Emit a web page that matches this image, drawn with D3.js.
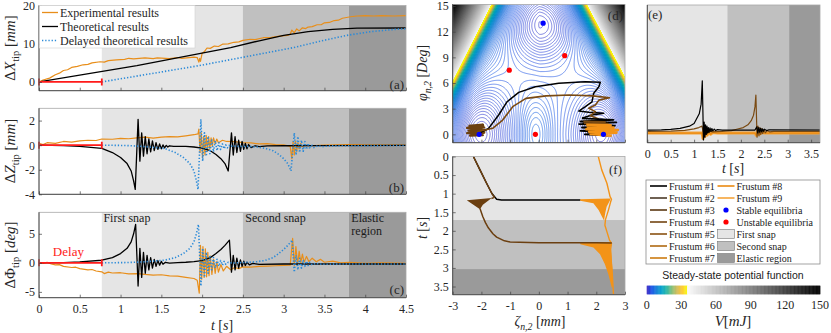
<!DOCTYPE html>
<html><head><meta charset="utf-8">
<script src="https://cdn.jsdelivr.net/npm/d3@7"></script>
<style>
body{margin:0;background:#fff}
svg{display:block}
text{font-family:"Liberation Serif","Times New Roman",serif}
</style></head><body>
<svg id="fig" width="831" height="333"></svg>
<script>
// ---------- data ----------
const delay = 0.77;
const timeShades = [[0.77, 2.5], [2.5, 3.8], [3.8, 4.5]];
const frustumShades = [[0, 1.71], [1.71, 3.03], [3.03, 3.72]];
const shadeColors = ['#e5e5e5', '#c0c0c0', '#9a9a9a'];

const xTheory = [[0,0],[1.2,4.3],[2.35,9.0],[2.7,10.8],[3.0,12.2],[3.3,13.2],[3.6,13.8],[3.9,14.1],[4.5,14.15]];
const xExp = [[0,0],[0.05,0.5],[0.13,1.0],[0.2,1.9],[0.25,2.3],[0.3,3.0],[0.35,3.2],[0.4,3.8],[0.47,4.1],[0.54,4.5],[0.6,4.6],[0.65,5.0],[0.75,5.3],[0.8,5.2],[0.85,5.6],[0.95,5.8],[1.05,5.9],[1.1,6.2],[1.16,6.05],[1.3,6.3],[1.4,6.1],[1.45,6.3],[1.6,6.1],[1.7,6.4],[1.75,6.2],[1.9,6.5],[1.94,6.4],[1.96,5.2],[1.97,6.2],[1.98,5.4],[2.0,7.5],[2.03,8.0],[2.06,8.9],[2.1,8.8],[2.15,9.4],[2.2,9.3],[2.25,9.9],[2.32,10.0],[2.39,10.4],[2.45,10.5],[2.5,10.9],[2.59,11.2],[2.65,11.1],[2.75,11.6],[2.85,11.7],[2.95,12.0],[3.05,12.2],[3.08,12.5],[3.1,13.6],[3.13,12.9],[3.16,13.9],[3.19,13.4],[3.23,14.2],[3.27,14.0],[3.3,14.4],[3.35,14.5],[3.41,15.0],[3.46,15.0],[3.5,15.5],[3.56,15.6],[3.62,16.1],[3.67,16.2],[3.72,16.7],[3.82,17.1],[3.9,17.3],[4.0,17.4],[4.1,17.3],[4.2,17.4],[4.35,17.3],[4.5,17.4]];

const zTheory = [[0,0],[0.3,-0.03],[0.5,-0.1],[0.77,-0.27],[0.9,-0.6],[1.0,-1.0],[1.08,-1.5],[1.13,-2.1],[1.16,-2.9],[1.18,-3.6],[1.215,2.1],[1.237,-1.3],[1.259,1.0],[1.281,-0.9],[1.303,0.7],[1.325,-0.7],[1.347,0.5],[1.369,-0.55],[1.391,0.35],[1.413,-0.45],[1.435,0.2],[1.457,-0.35],[1.479,0.1],[1.5,-0.3],[1.52,0.02],[1.54,-0.22],[1.56,-0.02],[1.58,-0.15],[1.6,-0.05],[1.65,-0.1],[1.8,-0.1],[1.9,-0.15],[2.0,-0.25],[2.1,-0.45],[2.17,-0.76],[2.23,-1.1],[2.28,-1.5],[2.32,-2.1],[2.36,1.0],[2.382,-0.8],[2.404,0.7],[2.426,-0.6],[2.448,0.4],[2.47,-0.5],[2.49,0.3],[2.51,-0.35],[2.53,0.15],[2.55,-0.3],[2.57,0.05],[2.6,-0.2],[2.65,-0.05],[2.7,-0.12],[2.8,-0.06],[3.0,-0.05],[3.5,-0.03],[4.5,-0.02]];
const zExp = [[0,0.15],[0.05,0.05],[0.1,0.2],[0.2,0.15],[0.3,0.3],[0.4,0.25],[0.5,0.35],[0.6,0.4],[0.7,0.38],[0.77,0.5],[0.9,0.48],[1.0,0.55],[1.1,0.52],[1.2,0.6],[1.3,0.65],[1.4,0.58],[1.5,0.66],[1.6,0.7],[1.7,0.68],[1.8,0.76],[1.9,0.85],[1.95,0.92],[1.96,1.3],[1.975,-0.6],[1.99,1.0],[2.005,-1.0],[2.02,0.7],[2.035,-0.8],[2.05,0.8],[2.065,-0.5],[2.08,0.7],[2.095,-0.3],[2.11,0.6],[2.125,-0.1],[2.14,0.6],[2.16,0.1],[2.18,0.5],[2.2,0.2],[2.25,0.4],[2.3,0.3],[2.4,0.28],[2.5,0.2],[2.6,0.18],[2.7,0.1],[2.8,0.12],[2.9,0.05],[3.0,0.02],[3.08,-0.1],[3.1,-1.1],[3.115,0.3],[3.13,-0.8],[3.145,0.3],[3.16,-0.5],[3.175,0.2],[3.19,-0.3],[3.21,0.15],[3.23,-0.15],[3.26,0.05],[3.3,-0.05],[3.5,0.0],[3.8,0.05],[4.0,0.02],[4.5,0.0]];

const phiTheory = [[0,0],[0.3,0.05],[0.5,0.15],[0.77,0.45],[0.9,0.9],[1.0,1.6],[1.08,2.5],[1.13,3.6],[1.16,5.0],[1.185,6.6],[1.215,-4.0],[1.237,2.5],[1.259,-2.5],[1.281,1.8],[1.303,-1.8],[1.325,1.3],[1.347,-1.2],[1.369,0.9],[1.391,-0.9],[1.413,0.6],[1.435,-0.6],[1.457,0.4],[1.479,-0.4],[1.5,0.25],[1.52,-0.25],[1.55,0.1],[1.6,-0.05],[1.7,0.05],[1.8,0.1],[1.9,0.2],[2.0,0.4],[2.1,0.9],[2.17,1.6],[2.23,2.3],[2.28,3.0],[2.335,3.9],[2.36,-1.6],[2.382,1.3],[2.404,-1.2],[2.426,0.8],[2.448,-0.9],[2.47,0.5],[2.49,-0.6],[2.51,0.3],[2.53,-0.45],[2.55,0.1],[2.58,-0.35],[2.62,-0.1],[2.7,-0.25],[3.0,-0.2],[3.5,-0.2],[4.5,-0.2]];
const phiExp = [[0,0],[0.05,-0.1],[0.1,0.1],[0.15,-0.2],[0.2,-0.35],[0.25,-0.3],[0.3,-0.6],[0.4,-0.8],[0.45,-0.75],[0.5,-1.0],[0.6,-1.2],[0.65,-1.15],[0.7,-1.4],[0.77,-1.55],[0.8,-1.85],[0.85,-1.6],[0.9,-1.75],[1.0,-1.7],[1.1,-1.9],[1.2,-1.85],[1.3,-2.0],[1.4,-2.1],[1.5,-2.05],[1.6,-2.25],[1.7,-2.3],[1.8,-2.5],[1.9,-2.7],[1.94,-3.0],[1.965,-5.2],[1.98,3.0],[1.995,-2.8],[2.01,2.8],[2.025,-2.5],[2.04,2.4],[2.055,-2.4],[2.07,1.8],[2.085,-2.2],[2.1,1.2],[2.12,-2.0],[2.14,0.6],[2.16,-1.8],[2.18,0.2],[2.2,-1.6],[2.23,-0.3],[2.26,-1.4],[2.3,-0.6],[2.35,-1.2],[2.4,-0.8],[2.45,-1.0],[2.5,-0.7],[2.6,-0.75],[2.7,-0.6],[2.8,-0.55],[2.9,-0.5],[3.0,-0.45],[3.08,-0.4],[3.11,4.2],[3.13,-0.5],[3.15,2.8],[3.17,-0.3],[3.19,2.0],[3.21,0.0],[3.23,1.5],[3.25,0.1],[3.28,1.1],[3.31,0.2],[3.35,0.8],[3.4,0.2],[3.45,0.6],[3.5,0.1],[3.6,0.3],[3.7,0.0],[3.8,0.1],[4.0,-0.1],[4.2,0.0],[4.5,-0.1]];

// (d) potential landscape and equilibria
const stableEq = [[-2.08,0],[0.15,13],[2.25,0]];
const unstableEq = [[-1.03,7.5],[0.9,9.2],[-0.12,0]];
const wells = [[-2.1,0,3.8,0.72,4.2],[2.25,0,3.8,0.72,4.2],[0.15,13,3.4,0.9,3.0]]; // zeta, phi, depth, sZeta, sPhi
const bumps = [[-0.12,0,1.8,0.4,3.0]];
const baseLevel = 4.4;
const wallLeft = [[-3,6.2],[-1.65,15.2]];   // V = 35 along these lines
const wallRight = [[3,6.7],[1.67,15.2]];
const wallTerms = [[29, 0.15], [6, 0.7]];   // amplitude, decay length (sum = 35 on the wall)
const wallSlope = 85;

const dBlack = [[-2.09,0.12],[-1.75,0.7],[-1.4,2.26],[-1.11,3.8],[-0.7,4.9],[-0.12,5.57],[0.69,5.96],[1.62,6.15],[2.14,6.08],[2.09,5.57],[1.91,4.8],[1.85,3.8],[1.62,3.23],[1.39,2.72],[1.74,2.57],[2.26,2.46],[1.85,2.26],[1.5,1.87]];
const dBrown = [[-2.15,0.3],[-1.61,0.7],[-1.26,1.67],[-0.91,3.23],[-0.45,4.2],[0.25,4.5],[1.06,4.6],[1.88,4.5],[2.46,4.28],[2.09,4.0],[1.97,3.43],[1.74,3.04],[1.97,2.65],[1.79,2.18],[2.09,1.8]];
const dLeftBlob = [[-2.45,1.0],[-1.95,1.15],[-2.5,0.75],[-1.9,0.8],[-2.45,0.45],[-1.85,0.5],[-2.5,0.15],[-1.9,0.2],[-2.4,-0.15],[-1.95,-0.1],[-2.3,0.6],[-1.9,1.0]];
const dBlackBlob = [[1.5,1.87],[2.6,1.7],[1.45,1.5],[2.7,1.4],[1.4,1.2],[2.65,1.0],[1.5,0.8],[2.6,0.6],[1.45,0.4],[2.5,0.2],[1.6,0.0],[2.4,-0.15],[1.7,0.3],[2.55,0.9],[1.55,1.3],[2.3,1.6]];
const dBrownBlob = [[1.55,1.5],[2.3,1.45],[1.6,1.3],[2.4,1.25],[1.7,1.1],[2.2,1.05]];
const dOrangeBlob = [[1.65,1.1],[2.5,1.05],[1.7,0.9],[2.6,0.8],[1.65,0.6],[2.75,0.5],[1.75,0.3],[2.7,0.2],[1.8,0.05],[2.5,-0.15],[1.9,0.4],[2.65,0.35],[1.75,0.75],[2.45,1.0]];

// (e) energy-like signal (no tick labels in the figure)
const eBlack = [[0,9.2],[0.3,9.3],[0.5,9.7],[0.7,10.4],[0.9,12],[1.0,14],[1.11,21],[1.15,28],[1.175,45],[1.2,2],[1.215,15],[1.23,4],[1.245,13],[1.26,6],[1.275,12],[1.29,7],[1.305,11],[1.32,7.5],[1.34,10.8],[1.36,8],[1.38,10.3],[1.4,8.5],[1.43,9.9],[1.46,8.8],[1.5,9.5],[1.6,9.2],[2.3,9.2],[2.34,11.5],[2.36,7.2],[2.38,11],[2.4,7.6],[2.42,10.5],[2.44,8],[2.46,10],[2.48,8.3],[2.5,9.8],[2.55,8.8],[2.6,9.4],[3.72,9.2]];
const eBrown = [[0,8.2],[0.5,8.4],[0.8,9],[1.0,10],[1.1,11],[1.17,12],[1.2,6.5],[1.23,9.5],[1.26,7],[1.3,8.8],[1.4,7.8],[1.6,8.2],[1.8,8.8],[1.91,9.8],[2.05,11],[2.15,13],[2.22,16],[2.27,20],[2.3,26],[2.32,34.6],[2.345,4],[2.365,12],[2.385,5],[2.405,11],[2.425,6],[2.445,10.2],[2.465,6.6],[2.49,9.5],[2.52,7.2],[2.56,8.8],[2.62,7.8],[2.7,8.2],[3.72,8.2]];
const eOrange = [[0,7.0],[1.17,7.0],[1.19,3],[1.21,10],[1.23,4.5],[1.25,9],[1.28,5.5],[1.31,8.2],[1.35,6.2],[1.4,7.4],[1.5,7.0],[2.3,7.0],[2.33,5.2],[2.36,8.6],[2.4,6.2],[2.45,7.5],[2.5,7.0],[3.72,7.0]];

// (f) zeta_{n,2} vs time
const fBlack = [[-2.28,0],[-2.05,0.36],[-1.82,0.72],[-1.64,0.99],[-1.47,1.15],[-1.3,1.17],[0,1.17],[1.45,1.17]];
const fBrownA = [[-2.28,0],[-2.05,0.36],[-1.82,0.72],[-1.64,0.99],[-1.55,1.1],[-1.65,1.13]];
const fBrownSpike = [[-1.64,1.12],[-2.51,1.18],[-2.05,1.42],[-1.95,1.3]];
const fBrownB = [[-2.05,1.4],[-1.95,1.62],[-1.86,1.78],[-1.76,1.92],[-1.6,2.08],[-1.47,2.17],[-1.2,2.27],[-1.0,2.3],[0,2.32],[1.0,2.32],[2.0,2.32],[2.54,2.33]];
const fOrange = [[2.07,0],[2.19,0.36],[2.37,0.72],[2.48,1.08],[2.53,1.15],[2.5,1.22],[2.42,1.45],[2.32,1.7],[2.3,1.85],[2.38,2.05],[2.46,2.25],[2.53,2.33],[2.5,2.5],[2.52,2.8],[2.56,3.2],[2.6,3.72]];
const fOrangeSpike1 = [[1.44,1.15],[2.5,1.13],[2.47,1.19],[2.36,1.35],[2.31,1.53],[2.27,1.72],[2.2,1.62],[2.08,1.44],[1.9,1.26],[1.44,1.19]];
const fOrangeSpike2 = [[1.44,2.31],[2.55,2.3],[2.5,2.45],[2.53,2.7],[2.56,3.0],[2.58,3.5],[2.54,3.53],[2.42,3.17],[2.3,2.9],[2.13,2.63],[1.9,2.45],[1.44,2.36]];

const frustumColors = ['#000000','#4b3a29','#5a3812','#734512','#8a5212','#b06a12','#cc7a10','#ea8a12','#f6a43a'];
const legendA = ['Experimental results','Theoretical results','Delayed theoretical results'];
const legendRight = ['Stable equilibria','Unstable equilibria','First snap','Second snap','Elastic region'];
const colorbarTicks = [0,30,60,90,120,150];

const orange = '#e88e1a', blue = '#2b8ad8';

// ---------- helpers ----------
const svg = d3.select('#fig');
const defs = svg.append('defs');
const fmt = d => String(+d.toFixed(2));

function makePanel(o) {
    const x = d3.scaleLinear().domain(o.xd).range([o.x0, o.x1]);
    const y = d3.scaleLinear().domain(o.yd).range(o.flip ? [o.y0, o.y1] : [o.y1, o.y0]);
    defs.append('clipPath').attr('id', 'clip-' + o.name)
        .append('rect').attr('x', o.x0).attr('y', o.y0)
        .attr('width', o.x1 - o.x0).attr('height', o.y1 - o.y0);
    const g = svg.append('g');
    const plot = g.append('g').attr('clip-path', `url(#clip-${o.name})`);
    return Object.assign({ x, y, g, plot }, o);
}

function drawFrame(p) {
    p.g.append('rect').attr('x', p.x0).attr('y', p.y0)
        .attr('width', p.x1 - p.x0).attr('height', p.y1 - p.y0)
        .attr('fill', 'none').attr('stroke', '#a8a8a8').attr('stroke-width', 0.8);
    p.g.append('path')
        .attr('d', `M${p.x0},${p.y0}V${p.y1}H${p.x1}`)
        .attr('fill', 'none').attr('stroke', '#404040').attr('stroke-width', 0.9);
}

function drawAxes(p, xt, yt, xLabels, yLabels) {
    const xa = d3.axisBottom(p.x).tickValues(xt).tickSizeInner(-3).tickSizeOuter(0).tickPadding(7)
        .tickFormat(xLabels ? fmt : '');
    const gx = p.g.append('g').attr('transform', `translate(0,${p.y1})`).call(xa);
    const ya = d3.axisLeft(p.y).tickValues(yt).tickSizeInner(-3).tickSizeOuter(0).tickPadding(4)
        .tickFormat(yLabels ? fmt : '');
    const gy = p.g.append('g').attr('transform', `translate(${p.x0},0)`).call(ya);
    [gx, gy].forEach(a => {
        a.attr('font-family', null);
        a.select('.domain').remove();
        a.selectAll('.tick line').attr('stroke', '#404040').attr('stroke-width', 0.7);
        a.selectAll('text').attr('fill', '#262626').style('font-size', '12px');
    });
}

function shadeX(p, spans) {
    spans.forEach((s, i) => p.plot.append('rect')
        .attr('x', p.x(s[0])).attr('width', p.x(s[1]) - p.x(s[0]))
        .attr('y', p.y0).attr('height', p.y1 - p.y0).attr('fill', shadeColors[i]));
}

function shadeY(p, spans) {
    spans.forEach((s, i) => p.plot.append('rect')
        .attr('y', p.y(s[0])).attr('height', p.y(s[1]) - p.y(s[0]))
        .attr('x', p.x0).attr('width', p.x1 - p.x0).attr('fill', shadeColors[i]));
}

function line(p, data, stroke, width, dash) {
    const gen = d3.line().x(d => p.x(d[0])).y(d => p.y(d[1]));
    const path = p.plot.append('path').datum(data).attr('d', gen)
        .attr('fill', 'none').attr('stroke', stroke).attr('stroke-width', width)
        .attr('stroke-linejoin', 'round');
    if (dash) path.attr('stroke-dasharray', dash);
    return path;
}

function poly(p, data, fill) {
    const gen = d3.line().x(d => p.x(d[0])).y(d => p.y(d[1]));
    p.plot.append('path').attr('d', gen(data) + 'Z').attr('fill', fill);
}

// parts: [text, 'i' italic | 's' subscript | '' plain]
function mathText(parent, x, y, parts, size, rotate) {
    const t = parent.append('text').attr('text-anchor', 'middle')
        .attr('transform', `translate(${x},${y})` + (rotate ? ' rotate(-90)' : ''))
        .style('font-size', size + 'px').attr('fill', '#262626');
    let sub = false;
    parts.forEach(([s, st]) => {
        const ts = t.append('tspan').text(s);
        if (st.includes('i')) ts.style('font-style', 'italic');
        if (st.includes('s')) {
            ts.style('font-size', (size * 0.7) + 'px');
            if (!sub) ts.attr('dy', size * 0.28);
            sub = true;
        } else if (sub) {
            ts.attr('dy', -size * 0.28);
            sub = false;
        }
    });
    return t;
}

function panelTag(p, x, y, txt, anchor) {
    p.g.append('text').attr('x', x).attr('y', y).attr('text-anchor', anchor || 'end')
        .style('font-size', '13px').attr('fill', '#262626').text(txt);
}

const shift = d => d.map(v => [v[0] + delay, v[1]]);

// ---------- left panels ----------
const left = { x0: 39, x1: 406, xd: [0, 4.5] };
const pa = makePanel(Object.assign({ name: 'a', y0: 5.5, y1: 90.7, yd: [-2.3, 20.05] }, left));
const pb = makePanel(Object.assign({ name: 'b', y0: 108.3, y1: 194.3, yd: [-4, 3.0] }, left));
const pc = makePanel(Object.assign({ name: 'c', y0: 212.3, y1: 297.7, yd: [-6, 8.7] }, left));
const tTicks = d3.range(0, 4.51, 0.5);

[[pa, xExp, xTheory], [pb, zExp, zTheory], [pc, phiExp, phiTheory]].forEach(([p, exp, th]) => {
    shadeX(p, timeShades);
    line(p, exp, orange, 1.2);
    line(p, th, '#000', 1.3);
    line(p, shift(th), blue, 1.6, '1.3,1.9');
    const y0 = p.y(0);
    p.g.append('path')
        .attr('d', `M${p.x(0)},${y0}H${p.x(delay)}M${p.x(0)},${y0 - 3.5}V${y0 + 3.5}M${p.x(delay)},${y0 - 3.5}V${y0 + 3.5}`)
        .attr('stroke', '#ff1a1a').attr('stroke-width', 1.8).attr('fill', 'none');
    drawFrame(p);
});
drawAxes(pa, tTicks, [0, 10, 20], false, true);
drawAxes(pb, tTicks, [-4, -2, 0, 2], false, true);
drawAxes(pc, tTicks, [-5, 0, 5], true, true);

mathText(svg, 15, 48, [['Δ', ''], ['X', 'i'], ['tip', 's'], [' [', ''], ['mm', 'i'], [']', '']], 15, true);
mathText(svg, 15, 151, [['Δ', ''], ['Z', 'i'], ['tip', 's'], [' [', ''], ['mm', 'i'], [']', '']], 15, true);
mathText(svg, 15, 255, [['Δ', ''], ['Φ', ''], ['tip', 's'], [' [', ''], ['deg', 'i'], [']', '']], 15, true);
mathText(svg, 222, 330, [['t', 'i'], [' [', ''], ['s', 'i'], [']', '']], 14, false);

panelTag(pa, 404, 89, '(a)');
panelTag(pb, 404, 192, '(b)');
panelTag(pc, 404, 294, '(c)');

// legend (a)
const la = pa.g.append('g');
la.append('rect').attr('x', 39.5).attr('y', 5.5).attr('width', 155.5).attr('height', 42.5)
    .attr('fill', '#fff').attr('stroke', '#d0d0d0').attr('stroke-width', 0.6);
[[orange, null, 1.3], ['#000', null, 1.3], [blue, '1.3,1.9', 1.6]].forEach((s, i) => {
    const yy = 12.5 + i * 14;
    const l = la.append('line').attr('x1', 42).attr('x2', 58).attr('y1', yy).attr('y2', yy)
        .attr('stroke', s[0]).attr('stroke-width', s[2]);
    if (s[1]) l.attr('stroke-dasharray', s[1]);
    la.append('text').attr('x', 60).attr('y', yy + 4).style('font-size', '12px')
        .attr('fill', '#262626').text(legendA[i]);
});

// annotations (c)
const ann = pc.g.append('g').style('font-size', '12px').attr('fill', '#1a1a1a');
ann.append('text').attr('x', pc.x(0.79)).attr('y', 222).text('First snap');
ann.append('text').attr('x', pc.x(2.53)).attr('y', 222).text('Second snap');
ann.append('text').attr('x', pc.x(3.83)).attr('y', 222).text('Elastic');
ann.append('text').attr('x', pc.x(3.83)).attr('y', 235).text('region');
pc.g.append('text').attr('x', pc.x(0.17)).attr('y', 256).style('font-size', '13px')
    .attr('fill', '#ff1a1a').text('Delay');

// ---------- (d) potential landscape ----------
const pd = makePanel({ name: 'd', x0: 452.7, x1: 625, y0: 4.5, y1: 142.7, xd: [-3, 3], yd: [-0.98, 15.18] });

const zr = [-3.25, 3.25], pr = [-1.6, 15.8], nx = 210, ny = 250;
const dz = (zr[1] - zr[0]) / (nx - 1), dp = (pr[1] - pr[0]) / (ny - 1);
const lineAt = (seg, ph) => seg[0][0] + (seg[1][0] - seg[0][0]) * (ph - seg[0][1]) / (seg[1][1] - seg[0][1]);
const gauss = (z, ph, [cz, cp, h, sz, sp]) => h * Math.exp(-((z - cz) ** 2) / (2 * sz * sz) - ((ph - cp) ** 2) / (2 * sp * sp));
function potential(z, ph) {
    const a = Math.abs(ph);
    const d = Math.max(lineAt(wallLeft, a) - z, z - lineAt(wallRight, a));
    let v = d > 0 ? 35 + wallSlope * d : d3.sum(wallTerms, ([amp, len]) => amp * Math.exp(d / len));
    v += baseLevel;
    wells.forEach(w => { v -= gauss(z, ph, w); });
    bumps.forEach(b => { v += gauss(z, ph, b); });
    return d > 0 ? Math.max(v, 35) : v;
}
const field = new Float64Array(nx * ny);
for (let j = 0; j < ny; j++) for (let i = 0; i < nx; i++) field[i + j * nx] = potential(zr[0] + i * dz, pr[0] + j * dp);

const gridProj = d3.geoTransform({
    point: function (gx, gy) { this.stream.point(pd.x(zr[0] + (gx - 0.5) * dz), pd.y(pr[0] + (gy - 0.5) * dp)); }
});
const gridPath = d3.geoPath(gridProj);

const parula = d3.scaleLinear().domain(d3.range(9).map(i => i / 8))
    .range(['#3a22c0', '#1a55e6', '#1481d6', '#06a4ca', '#2eb7a4', '#87bf77', '#d1bb59', '#fec832', '#f9fb0e']).clamp(true);
const grayScale = d3.scaleLinear().domain([35, 150]).range(['#fbfbfb', '#000']).clamp(true);
const colorOf = v => v < 35 ? parula(v / 35) : grayScale(v);

const fillLevels = d3.range(35, 151, 2.5);
const fills = d3.contours().size([nx, ny]).thresholds(fillLevels)(field);
pd.plot.selectAll('path.fill').data(fills).join('path').attr('class', 'fill')
    .attr('d', gridPath).attr('fill', d => grayScale(d.value));

const lineLevels = d3.range(0.2, 35.01, 0.2);
const isolines = d3.contours().size([nx, ny]).thresholds(lineLevels)(field);
pd.plot.selectAll('path.iso').data(isolines).join('path').attr('class', 'iso')
    .attr('d', gridPath).attr('fill', 'none').attr('stroke', d => parula(d.value / 35))
    .attr('stroke-width', 0.6);

line(pd, dLeftBlob, '#6b3f10', 2.2);
line(pd, dBlack, '#000', 1.5);
line(pd, dBrown, '#7a4a12', 1.6);
line(pd, dBlackBlob, '#000', 1.8);
line(pd, dBrownBlob, '#7a4a12', 2);
line(pd, dOrangeBlob, '#f39318', 2.6);
pd.plot.selectAll('circle.st').data(stableEq).join('circle')
    .attr('cx', d => pd.x(d[0])).attr('cy', d => pd.y(d[1])).attr('r', 2.6).attr('fill', '#0000ff');
pd.plot.selectAll('circle.un').data(unstableEq).join('circle')
    .attr('cx', d => pd.x(d[0])).attr('cy', d => pd.y(d[1])).attr('r', 2.6).attr('fill', '#ff0000');
drawFrame(pd);
drawAxes(pd, d3.range(-3, 3.1, 1), d3.range(0, 15.1, 3), false, true);
panelTag(pd, 623, 20, '(d)');
mathText(svg, 427, 73, [['φ', 'i'], ['n,2', 'si'], [' [', ''], ['Deg', 'i'], [']', '']], 14, true);

// ---------- (f) ----------
const pf = makePanel({ name: 'f', x0: 452.7, x1: 625, y0: 156.5, y1: 294.7, xd: [-3, 3], yd: [0, 3.72], flip: true });
shadeY(pf, frustumShades);
line(pf, fBlack, '#000', 1.4);
line(pf, fOrange, '#f39318', 1.4);
poly(pf, fOrangeSpike1, '#f39318');
poly(pf, fOrangeSpike2, '#f39318');
line(pf, fBrownA, '#6b3f10', 1.5);
poly(pf, fBrownSpike, '#6b3f10');
line(pf, fBrownB, '#6b3f10', 1.5);
drawFrame(pf);
drawAxes(pf, d3.range(-3, 3.1, 1), d3.range(0, 3.51, 0.5), true, true);
panelTag(pf, 622, 174, '(f)');
mathText(svg, 427, 228, [['t', 'i'], [' [', ''], ['s', 'i'], [']', '']], 14, true);
mathText(svg, 540, 326, [['ζ', 'i'], ['n,2', 'si'], [' [', ''], ['mm', 'i'], [']', '']], 14, false);

// ---------- (e) ----------
const pe = makePanel({ name: 'e', x0: 647.3, x1: 820, y0: 5, y1: 142.7, xd: [0, 3.69], yd: [0, 100] });
shadeX(pe, frustumShades);
line(pe, eOrange, '#f6a43a', 3);
line(pe, eOrange, '#ea8a12', 1.2);
line(pe, eBrown, '#7a4a12', 1.2);
line(pe, eBlack, '#000', 1.2);
drawFrame(pe);
drawAxes(pe, d3.range(0, 3.51, 0.5), [], true, false);
panelTag(pe, 648, 19, '(e)', 'start');
mathText(svg, 733, 173, [['t', 'i'], [' [', ''], ['s', 'i'], [']', '']], 14, false);

// ---------- legend (bottom right) ----------
const lg = svg.append('g').style('font-size', '10px').attr('fill', '#1a1a1a');
lg.append('rect').attr('x', 646).attr('y', 180).attr('width', 174).attr('height', 84)
    .attr('fill', '#fff').attr('stroke', '#8c8c8c').attr('stroke-width', 0.8);
frustumColors.forEach((c, i) => {
    const col = i < 7 ? 0 : 1, row = i < 7 ? i : i - 7;
    const x1 = col ? 717.5 : 650, yy = 186 + row * 12;
    lg.append('line').attr('x1', x1).attr('x2', x1 + 17).attr('y1', yy).attr('y2', yy)
        .attr('stroke', c).attr('stroke-width', 1.6);
    lg.append('text').attr('x', x1 + 19).attr('y', yy + 3.5).text('Frustum #' + (i + 1));
});
legendRight.forEach((s, i) => {
    const yy = 210 + i * 12;
    if (i < 2) {
        lg.append('circle').attr('cx', 726).attr('cy', yy).attr('r', 2.6).attr('fill', i ? '#ff0000' : '#0000ff');
    } else {
        lg.append('rect').attr('x', 717.5).attr('y', yy - 4.5).attr('width', 17).attr('height', 9)
            .attr('fill', shadeColors[i - 2]).attr('stroke', '#777').attr('stroke-width', 0.6);
    }
    lg.append('text').attr('x', 736.5).attr('y', yy + 3.5).text(s);
});

// ---------- colour bar ----------
const cb = d3.scaleLinear().domain([0, 150]).range([646.7, 820]);
const cbg = svg.append('g');
cbg.append('text').attr('x', 733).attr('y', 279).attr('text-anchor', 'middle')
    .style('font-family', '"Liberation Sans",Arial,sans-serif').style('font-size', '10.5px')
    .attr('fill', '#1a1a1a').text('Steady-state potential function');
cbg.selectAll('rect').data(d3.range(0, 150, 0.5)).join('rect')
    .attr('x', d => cb(d)).attr('width', cb(0.5) - cb(0) + 0.4)
    .attr('y', 285.7).attr('height', 8.6).attr('fill', d => colorOf(d + 0.25));
cbg.selectAll('text.tk').data(colorbarTicks).join('text').attr('class', 'tk')
    .attr('x', d => cb(d)).attr('y', 309).attr('text-anchor', 'middle')
    .style('font-size', '12px').attr('fill', '#262626').text(d => d);
mathText(svg, 733, 326, [['V', 'i'], ['[', ''], ['mJ', 'i'], [']', '']], 15, false);
</script>
</body></html>
